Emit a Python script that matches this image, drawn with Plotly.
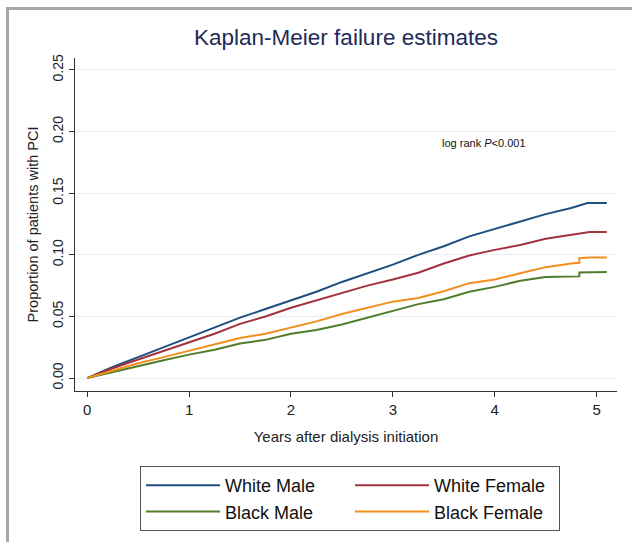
import plotly.graph_objects as go

# ---- data ----
years = [0, 0.25, 0.5, 0.75, 1.0, 1.25, 1.5, 1.75, 2.0, 2.25, 2.5, 2.75,
         3.0, 3.25, 3.5, 3.75, 4.0, 4.25, 4.5, 4.75]

wm_x = years + [4.91, 5.1]
wm_y = [0, 0.009, 0.017, 0.025, 0.033, 0.041, 0.049, 0.056, 0.063, 0.070,
        0.078, 0.085, 0.092, 0.100, 0.107, 0.115, 0.121, 0.127, 0.133, 0.138,
        0.142, 0.142]

wf_x = years + [4.93, 5.1]
wf_y = [0, 0.008, 0.015, 0.022, 0.029, 0.036, 0.044, 0.050, 0.057, 0.063,
        0.069, 0.075, 0.080, 0.0855, 0.093, 0.0995, 0.104, 0.108, 0.113, 0.116,
        0.1185, 0.1185]

bm_x = years + [4.83, 4.83, 5.1]
bm_y = [0, 0.005, 0.010, 0.0145, 0.019, 0.023, 0.028, 0.031, 0.036, 0.039,
        0.0435, 0.049, 0.0545, 0.060, 0.064, 0.070, 0.074, 0.079, 0.082, 0.0825,
        0.0825, 0.0857, 0.086]

bf_x = years + [4.83, 4.83, 4.93, 5.1]
bf_y = [0, 0.006, 0.012, 0.017, 0.022, 0.027, 0.0325, 0.036, 0.041, 0.046,
        0.052, 0.057, 0.062, 0.065, 0.0705, 0.077, 0.080, 0.085, 0.090, 0.093,
        0.0935, 0.0973, 0.0978, 0.0978]

series_names = ["White Male", "White Female", "Black Male", "Black Female"]
series_colors = ["#1f4e80", "#a3323f", "#4f7d2b", "#f28e1c"]

y_ticks = [0.00, 0.05, 0.10, 0.15, 0.20, 0.25]
y_ticklabels = ["0.00", "0.05", "0.10", "0.15", "0.20", "0.25"]
x_ticks = [0, 1, 2, 3, 4, 5]

FONT = "Liberation Sans, Arial, sans-serif"

fig = go.Figure()
for name, color, xs, ys in zip(series_names, series_colors,
                               [wm_x, wf_x, bm_x, bf_x], [wm_y, wf_y, bm_y, bf_y]):
    fig.add_trace(go.Scatter(x=xs, y=ys, mode="lines", name=name,
                             line=dict(color=color, width=2)))

# pixel layout helpers
L, R, T, B = 75, 15, 58, 151
W, H = 632, 542
pw, ph = W - L - R, H - T - B


def px(xp):
    return (xp - L) / pw


def py(yp):
    return (H - B - yp) / ph


fig.update_layout(
    template="none",
    width=W, height=H,
    margin=dict(l=L, r=R, t=T, b=B, pad=0, autoexpand=False),
    paper_bgcolor="white", plot_bgcolor="white",
    font=dict(family=FONT, color="#222222"),
    title=dict(text="Kaplan-Meier failure estimates",
               font=dict(family=FONT, size=22.5, color="#1e2b57"),
               x=0.5, xref="paper", xanchor="center",
               y=1 - 37 / H, yref="container", yanchor="middle"),
    xaxis=dict(range=[-0.12, 5.2], tickvals=x_ticks, automargin=False,
               showgrid=False, zeroline=False,
               showline=True, linecolor="#333333", linewidth=1,
               ticks="outside", ticklen=5, tickcolor="#333333",
               tickfont=dict(size=15, color="#222222"),
               title=dict(text="Years after dialysis initiation",
                          font=dict(size=15, color="#222222"), standoff=14)),
    yaxis=dict(range=[-0.0105, 0.2597], tickvals=y_ticks, ticktext=y_ticklabels,
               tickangle=-90, automargin=False,
               showgrid=True, gridcolor="#e6eef4", gridwidth=1, zeroline=False,
               showline=True, linecolor="#333333", linewidth=1,
               ticks="outside", ticklen=5, tickcolor="#333333",
               tickfont=dict(size=14, color="#222222"),
               title=dict(text="Proportion of patients with PCI",
                          font=dict(size=14.5, color="#222222"), standoff=8)),
    legend=dict(orientation="h", xref="container", yref="container",
                x=140 / W, xanchor="left",
                y=1 - 466 / H, yanchor="top",
                bordercolor="#555555", borderwidth=1, bgcolor="white",
                font=dict(family=FONT, size=18, color="#111111"),
                itemwidth=74, entrywidth=120, tracegroupgap=0),
    showlegend=True,
)

fig.add_annotation(x=3.89, y=0.191, xref="x", yref="y",
                   text="log rank <i>P</i><0.001", showarrow=False,
                   font=dict(family=FONT, size=11, color="#111111"))

# gray frame (left and top)
frame_color = "#a6a6a6"
fig.add_shape(type="rect", xref="paper", yref="paper",
              x0=px(6), x1=px(9), y0=py(H), y1=py(7),
              fillcolor=frame_color, line=dict(width=0), layer="above")
fig.add_shape(type="rect", xref="paper", yref="paper",
              x0=px(6), x1=px(W), y0=py(10), y1=py(7),
              fillcolor=frame_color, line=dict(width=0), layer="above")

fig.write_html("out.html",
               config={"displayModeBar": False},
               post_script="document.body.style.margin='0';"
                           "document.body.style.overflow='hidden';")
